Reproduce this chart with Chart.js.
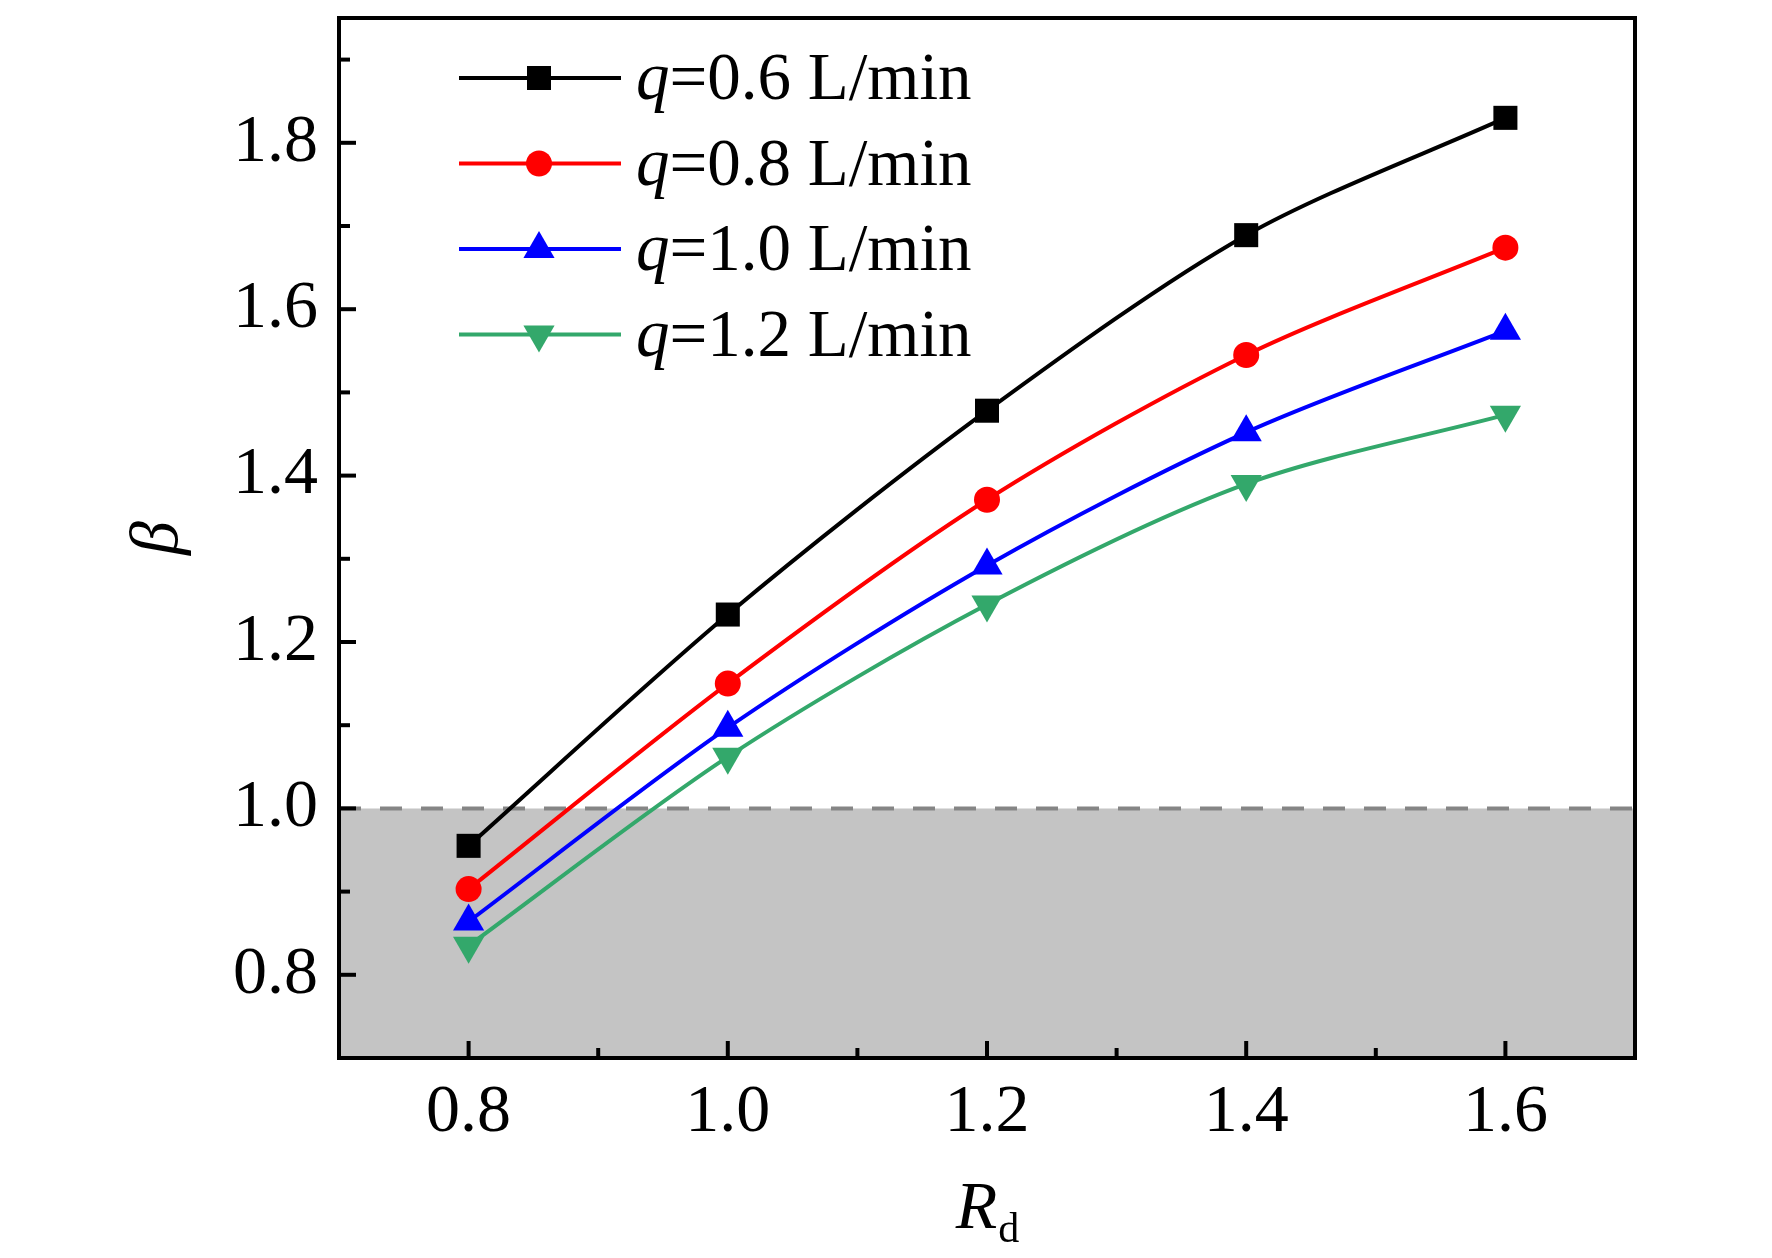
<!DOCTYPE html>
<html>
<head>
<meta charset="utf-8">
<title>beta vs Rd</title>
<script src="https://cdn.jsdelivr.net/npm/chart.js@4/dist/chart.umd.min.js"></script>
<style>
  html, body { margin: 0; padding: 0; background: #fff; }
  #wrap { width: 1772px; height: 1258px; position: relative; }
</style>
</head>
<body>
<div id="wrap"><canvas id="chartBeta"></canvas></div>
<script>
// data
const rd = [0.8, 1.0, 1.2, 1.4, 1.6];
const beta06 = [0.955, 1.233, 1.478, 1.689, 1.830];
const beta08 = [0.903, 1.150, 1.371, 1.545, 1.674];
const beta10 = [0.864, 1.097, 1.292, 1.452, 1.574];
const beta12 = [0.835, 1.062, 1.245, 1.390, 1.473];
const flowRates = ['0.6', '0.8', '1.0', '1.2'];

const xTicks = [0.8, 1.0, 1.2, 1.4, 1.6];
const yTicks = [0.8, 1.0, 1.2, 1.4, 1.6, 1.8];
const xRange = [0.7, 1.7];
const yRange = [0.7, 1.95];
const betaLimit = 1.0;

const serif = "'Liberation Serif', 'Times New Roman', serif";

const toPoints = ys => rd.map((x, i) => ({ x: x, y: ys[i] }));

const series = [
    { values: beta06, color: '#000000', style: 'rect', radius: 17, rotation: 0 },
    { values: beta08, color: '#ff0000', style: 'circle', radius: 13, rotation: 0 },
    { values: beta10, color: '#0000ff', style: 'triangle', radius: 18, rotation: 0 },
    { values: beta12, color: '#33a86b', style: 'triangle', radius: 18, rotation: 180 }
];

const datasets = series.map((s, i) => ({
    label: 'q=' + flowRates[i] + ' L/min',
    data: toPoints(s.values),
    borderColor: s.color,
    backgroundColor: s.color,
    borderWidth: 4,
    tension: 0.3,
    pointStyle: s.style,
    pointRadius: s.radius,
    pointHoverRadius: s.radius,
    pointRotation: s.rotation,
    pointBackgroundColor: s.color,
    pointBorderWidth: 0,
    fill: false,
    order: 1
}));

// shaded region beta < 1 with dashed limit line
datasets.push({
    label: 'limit',
    data: [{ x: xRange[0], y: betaLimit }, { x: xRange[1], y: betaLimit }],
    borderColor: '#858585',
    borderWidth: 4,
    borderDash: [22, 19],
    backgroundColor: '#c4c4c4',
    fill: 'start',
    pointRadius: 0,
    tension: 0,
    order: 10
});

// inward major/minor ticks and full frame
const frameTicks = {
    id: 'frameTicks',
    afterDatasetsDraw(chart) {
        const { ctx, chartArea: a, scales } = chart;
        ctx.save();
        ctx.strokeStyle = '#000';
        ctx.lineWidth = 4;
        const isMajor = (list, v) => list.some(t => Math.abs(t - v) < 1e-6);
        for (let v = xRange[0] + 0.1; v < xRange[1] - 0.01; v += 0.1) {
            const px = scales.x.getPixelForValue(v);
            const len = isMajor(xTicks, v) ? 17 : 10;
            ctx.beginPath();
            ctx.moveTo(px, a.bottom);
            ctx.lineTo(px, a.bottom - len);
            ctx.stroke();
        }
        for (let v = yRange[0] + 0.1; v < yRange[1] - 0.01; v += 0.1) {
            const py = scales.y.getPixelForValue(v);
            const len = isMajor(yTicks, v) ? 17 : 11;
            ctx.beginPath();
            ctx.moveTo(a.left, py);
            ctx.lineTo(a.left + len, py);
            ctx.stroke();
        }
        ctx.strokeRect(a.left, a.top, a.right - a.left, a.bottom - a.top);
        ctx.restore();
    }
};

// legend inside the plot and axis titles
const legendTitles = {
    id: 'legendTitles',
    afterDraw(chart) {
        const { ctx, chartArea: a } = chart;
        ctx.save();
        series.forEach((s, i) => {
            const y = a.top + 60 + i * 85.5;
            ctx.strokeStyle = s.color;
            ctx.lineWidth = 4;
            ctx.beginPath();
            ctx.moveTo(a.left + 120, y);
            ctx.lineTo(a.left + 282, y);
            ctx.stroke();
            ctx.fillStyle = s.color;
            Chart.helpers.drawPoint(ctx, {
                pointStyle: s.style, radius: s.radius, rotation: s.rotation, borderWidth: 0
            }, a.left + 200, y);

            ctx.fillStyle = '#000';
            ctx.textAlign = 'left';
            ctx.textBaseline = 'alphabetic';
            let tx = a.left + 297;
            ctx.font = 'italic 67px ' + serif;
            ctx.fillText('q', tx, y + 21);
            tx += ctx.measureText('q').width;
            ctx.font = '67px ' + serif;
            ctx.fillText('=' + flowRates[i] + ' L/min', tx, y + 21);
        });

        // y title
        ctx.fillStyle = '#000';
        ctx.save();
        ctx.translate(a.left - 180, (a.top + a.bottom) / 2);
        ctx.rotate(-Math.PI / 2);
        ctx.font = 'italic 68px ' + serif;
        ctx.textAlign = 'center';
        ctx.textBaseline = 'middle';
        ctx.fillText('β', 0, 0);
        ctx.restore();

        // x title R_d
        ctx.textAlign = 'left';
        ctx.textBaseline = 'alphabetic';
        ctx.font = 'italic 68px ' + serif;
        const wR = ctx.measureText('R').width;
        ctx.font = '42px ' + serif;
        const wd = ctx.measureText('d').width;
        const x0 = (a.left + a.right) / 2 - (wR + wd) / 2;
        const yb = a.bottom + 170;
        ctx.font = 'italic 68px ' + serif;
        ctx.fillText('R', x0, yb);
        ctx.font = '42px ' + serif;
        ctx.fillText('d', x0 + wR + 1, yb + 14);
        ctx.restore();
    }
};

const ctxBeta = document.getElementById('chartBeta').getContext('2d');
const chartBeta = new Chart(ctxBeta, {
    type: 'line',
    data: { datasets: datasets },
    options: {
        responsive: true,
        maintainAspectRatio: false,
        devicePixelRatio: 1,
        animation: false,
        layout: { padding: { left: 0, right: 137, top: 10, bottom: 0 } },
        plugins: {
            legend: { display: false },
            tooltip: { enabled: false }
        },
        scales: {
            x: {
                type: 'linear',
                min: xRange[0],
                max: xRange[1],
                afterBuildTicks: s => { s.ticks = xTicks.map(v => ({ value: v })); },
                afterFit: s => { s.height = 200; s.paddingLeft = 0; s.paddingRight = 0; },
                grid: { display: false },
                border: { display: false },
                ticks: {
                    color: '#000',
                    font: { family: serif, size: 68 },
                    padding: 6,
                    maxRotation: 0,
                    autoSkip: false,
                    callback: v => Number(v).toFixed(1)
                }
            },
            y: {
                type: 'linear',
                min: yRange[0],
                max: yRange[1],
                afterBuildTicks: s => { s.ticks = yTicks.map(v => ({ value: v })); },
                afterFit: s => { s.width = 339; s.paddingTop = 0; s.paddingBottom = 0; },
                grid: { display: false },
                border: { display: false },
                ticks: {
                    color: '#000',
                    font: { family: serif, size: 68 },
                    padding: 13,
                    autoSkip: false,
                    callback: v => Number(v).toFixed(1)
                }
            }
        }
    },
    plugins: [frameTicks, legendTitles]
});
</script>
</body>
</html>
